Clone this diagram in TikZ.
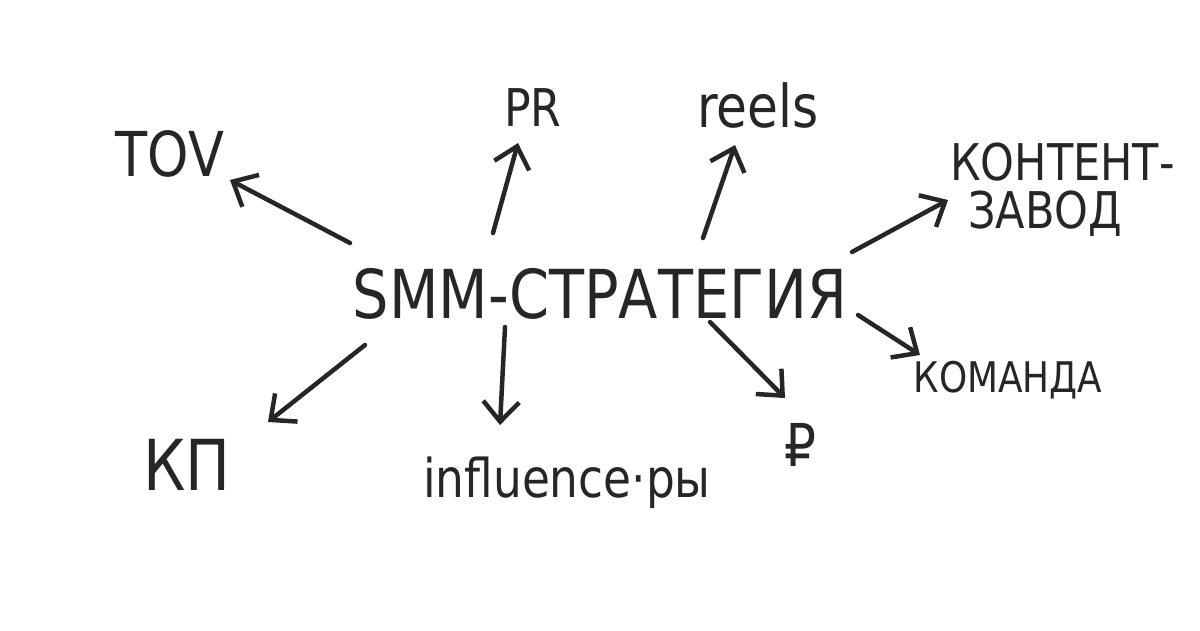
\documentclass[tikz,border=0pt]{standalone}
\usepackage{fontspec}
\setmainfont{DejaVu Sans}[FakeStretch=0.85]
\usetikzlibrary{arrows.meta}
\definecolor{ink}{HTML}{262626}

\begin{document}
\begin{tikzpicture}[
    x=0.025cm, y=-0.025cm,
    word/.style={text=ink, inner sep=0pt, anchor=base},
    arrow/.style={-{Straight Barb[length=5mm, width=9mm]}, line width=3.2pt, draw=ink, line cap=round, line join=round}
]
\useasboundingbox (0,0) rectangle (1200,630);
\fill[white] (0,0) rectangle (1200,630);

% Centre
\node[word, font=\fontsize{48}{48}\selectfont] (smm) at (600,318) {SMM-СТРАТЕГИЯ};

% Branches
\node[word, font=\fontsize{44}{44}\selectfont] (tov) at (170,176) {TOV};
\node[word, font=\fontsize{37}{37}\selectfont] (pr) at (533,127) {PR};
\node[word, font=\fontsize{42}{42}\selectfont] (reels) at (758,128) {reels};
\node[word, font=\fontsize{36}{34}\selectfont, anchor=north west, align=left] (zavod) at (950,143) {КОНТЕНТ-\\\hspace{0.35em}ЗАВОД};
\node[word, font=\fontsize{30}{30}\selectfont] (komanda) at (1008,392) {КОМАНДА};
\node[word, font=\fontsize{42}{42}\selectfont] (rub) at (800,466) {₽};
\node[word, font=\fontsize{38}{38}\selectfont] (infl) at (567,497) {influence·ры};
\node[word, font=\fontsize{50}{50}\selectfont] (kp) at (187,490) {КП};

% Arrows
\draw[arrow] ([shift={(-250,-75)}]smm.base) -- ([shift={(60,4)}]tov.base);
\draw[arrow] ([shift={(-107,-85)}]smm.base) -- ([shift={(-15,16)}]pr.base);
\draw[arrow] ([shift={(103,-80)}]smm.base) -- ([shift={(-23,17)}]reels.base);
\draw[arrow] ([shift={(252,-66)}]smm.base) -- ([shift={(-2,57)}]zavod.north west);
\draw[arrow] ([shift={(258,-3)}]smm.base) -- ([shift={(-88,-37)}]komanda.base);
\draw[arrow] ([shift={(110,4)}]smm.base) -- ([shift={(-15,-68)}]rub.base);
\draw[arrow] ([shift={(-95,9)}]smm.base) -- ([shift={(-67,-72)}]infl.base);
\draw[arrow] ([shift={(-235,27)}]smm.base) -- ([shift={(81,-68)}]kp.base);

\end{tikzpicture}
\end{document}
